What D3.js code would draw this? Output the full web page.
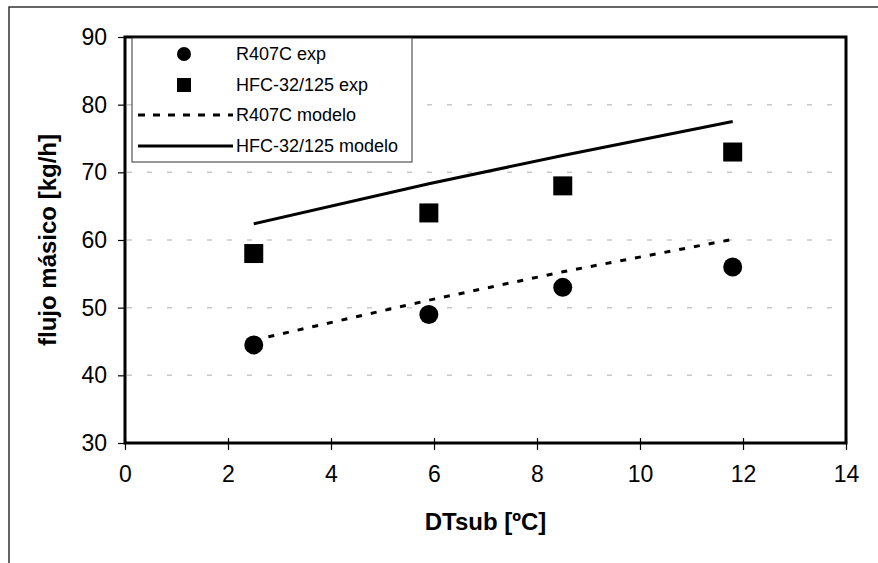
<!DOCTYPE html>
<html>
<head>
<meta charset="utf-8">
<script src="https://cdn.jsdelivr.net/npm/d3@7"></script>
<style>
  body { margin: 0; background: #fff; }
  text { font-family: "Liberation Sans", Arial, sans-serif; fill: #000; }
</style>
</head>
<body>
<script>
// data
var dtsub = [2.5, 5.9, 8.5, 11.8];
var r407cExp = [44.5, 49, 53, 56];
var hfcExp = [58, 64, 68, 73];
var r407cModelo = [45.2, 51.1, 55.3, 60.1];
var hfcModelo = [62.4, 68.3, 72.5, 77.5];
var xTicks = [0, 2, 4, 6, 8, 10, 12, 14];
var yTicks = [30, 40, 50, 60, 70, 80, 90];
var legendLabels = ['R407C exp', 'HFC-32/125 exp', 'R407C modelo', 'HFC-32/125 modelo'];

var W = 878, H = 563;
var svg = d3.select('body').append('svg')
  .attr('width', W)
  .attr('height', H);

// outer chart border (runs off the right and bottom edge)
svg.append('rect')
  .attr('x', 9).attr('y', 7)
  .attr('width', W + 20).attr('height', H + 20)
  .attr('fill', 'none')
  .attr('stroke', '#333')
  .attr('stroke-width', 1.5);

var x = d3.scaleLinear().domain([0, 14]).range([125, 846]);
var y = d3.scaleLinear().domain([30, 90]).range([443, 37]);

// grid
svg.append('g').selectAll('line')
  .data(yTicks.slice(1, -1))
  .join('line')
  .attr('x1', x(0) + 2).attr('x2', x(14) - 8)
  .attr('y1', d => y(d)).attr('y2', d => y(d))
  .attr('stroke', '#c8c8c8')
  .attr('stroke-width', 1.5)
  .attr('stroke-dasharray', '5,15');

// axes
var xAxis = svg.append('g')
  .attr('transform', 'translate(0,' + y(30) + ')')
  .call(d3.axisBottom(x).tickValues(xTicks).tickSize(7).tickPadding(16));
xAxis.selectAll('.tick line').attr('y1', -5).attr('stroke-width', 1.2);

var yAxis = svg.append('g')
  .attr('transform', 'translate(' + x(0) + ',0)')
  .call(d3.axisLeft(y).tickValues(yTicks).tickSize(7).tickPadding(11));
yAxis.selectAll('.tick line').attr('stroke-width', 1.2);

svg.selectAll('.domain').remove();
svg.selectAll('.tick text')
  .attr('font-size', 23)
  .attr('font-family', '"Liberation Sans", Arial, sans-serif')
  .attr('fill', '#000');

// plot frame
svg.append('rect')
  .attr('x', x(0)).attr('y', y(90))
  .attr('width', x(14) - x(0)).attr('height', y(30) - y(90))
  .attr('fill', 'none')
  .attr('stroke', '#000')
  .attr('stroke-width', 3);

// model lines
var line = d3.line()
  .x((d, i) => x(dtsub[i]))
  .y(d => y(d));

svg.append('path')
  .datum(r407cModelo)
  .attr('d', line)
  .attr('fill', 'none')
  .attr('stroke', '#000')
  .attr('stroke-width', 3)
  .attr('stroke-dasharray', '6,9');

svg.append('path')
  .datum(hfcModelo)
  .attr('d', line)
  .attr('fill', 'none')
  .attr('stroke', '#000')
  .attr('stroke-width', 3);

// experimental points
svg.append('g').selectAll('circle')
  .data(r407cExp)
  .join('circle')
  .attr('cx', (d, i) => x(dtsub[i]))
  .attr('cy', d => y(d))
  .attr('r', 9.5)
  .attr('fill', '#000');

svg.append('g').selectAll('rect')
  .data(hfcExp)
  .join('rect')
  .attr('x', (d, i) => x(dtsub[i]) - 9.5)
  .attr('y', d => y(d) - 9.5)
  .attr('width', 19).attr('height', 19)
  .attr('fill', '#000');

// legend
var leg = svg.append('g');
leg.append('rect')
  .attr('x', 132).attr('y', 38)
  .attr('width', 280).attr('height', 124)
  .attr('fill', '#fff')
  .attr('stroke', '#333')
  .attr('stroke-width', 1);

var rowY = [54, 85, 115, 146];
leg.append('circle').attr('cx', 184).attr('cy', rowY[0]).attr('r', 7).attr('fill', '#000');
leg.append('rect').attr('x', 177).attr('y', rowY[1] - 7).attr('width', 14).attr('height', 14).attr('fill', '#000');
leg.append('line').attr('x1', 138).attr('x2', 233).attr('y1', rowY[2]).attr('y2', rowY[2])
  .attr('stroke', '#000').attr('stroke-width', 3).attr('stroke-dasharray', '7,8');
leg.append('line').attr('x1', 138).attr('x2', 233).attr('y1', rowY[3]).attr('y2', rowY[3])
  .attr('stroke', '#000').attr('stroke-width', 3);

leg.selectAll('text')
  .data(legendLabels)
  .join('text')
  .attr('x', 236)
  .attr('y', (d, i) => rowY[i])
  .attr('dy', '0.35em')
  .attr('font-size', 18)
  .text(d => d);

// axis titles
svg.append('text')
  .attr('x', (x(0) + x(14)) / 2)
  .attr('y', 530)
  .attr('text-anchor', 'middle')
  .attr('font-size', 24)
  .attr('font-weight', 'bold')
  .text('DTsub [ºC]');

svg.append('text')
  .attr('transform', 'translate(56,' + (y(30) + y(90)) / 2 + ') rotate(-90)')
  .attr('text-anchor', 'middle')
  .attr('font-size', 24)
  .attr('font-weight', 'bold')
  .text('flujo másico [kg/h]');
</script>
</body>
</html>
